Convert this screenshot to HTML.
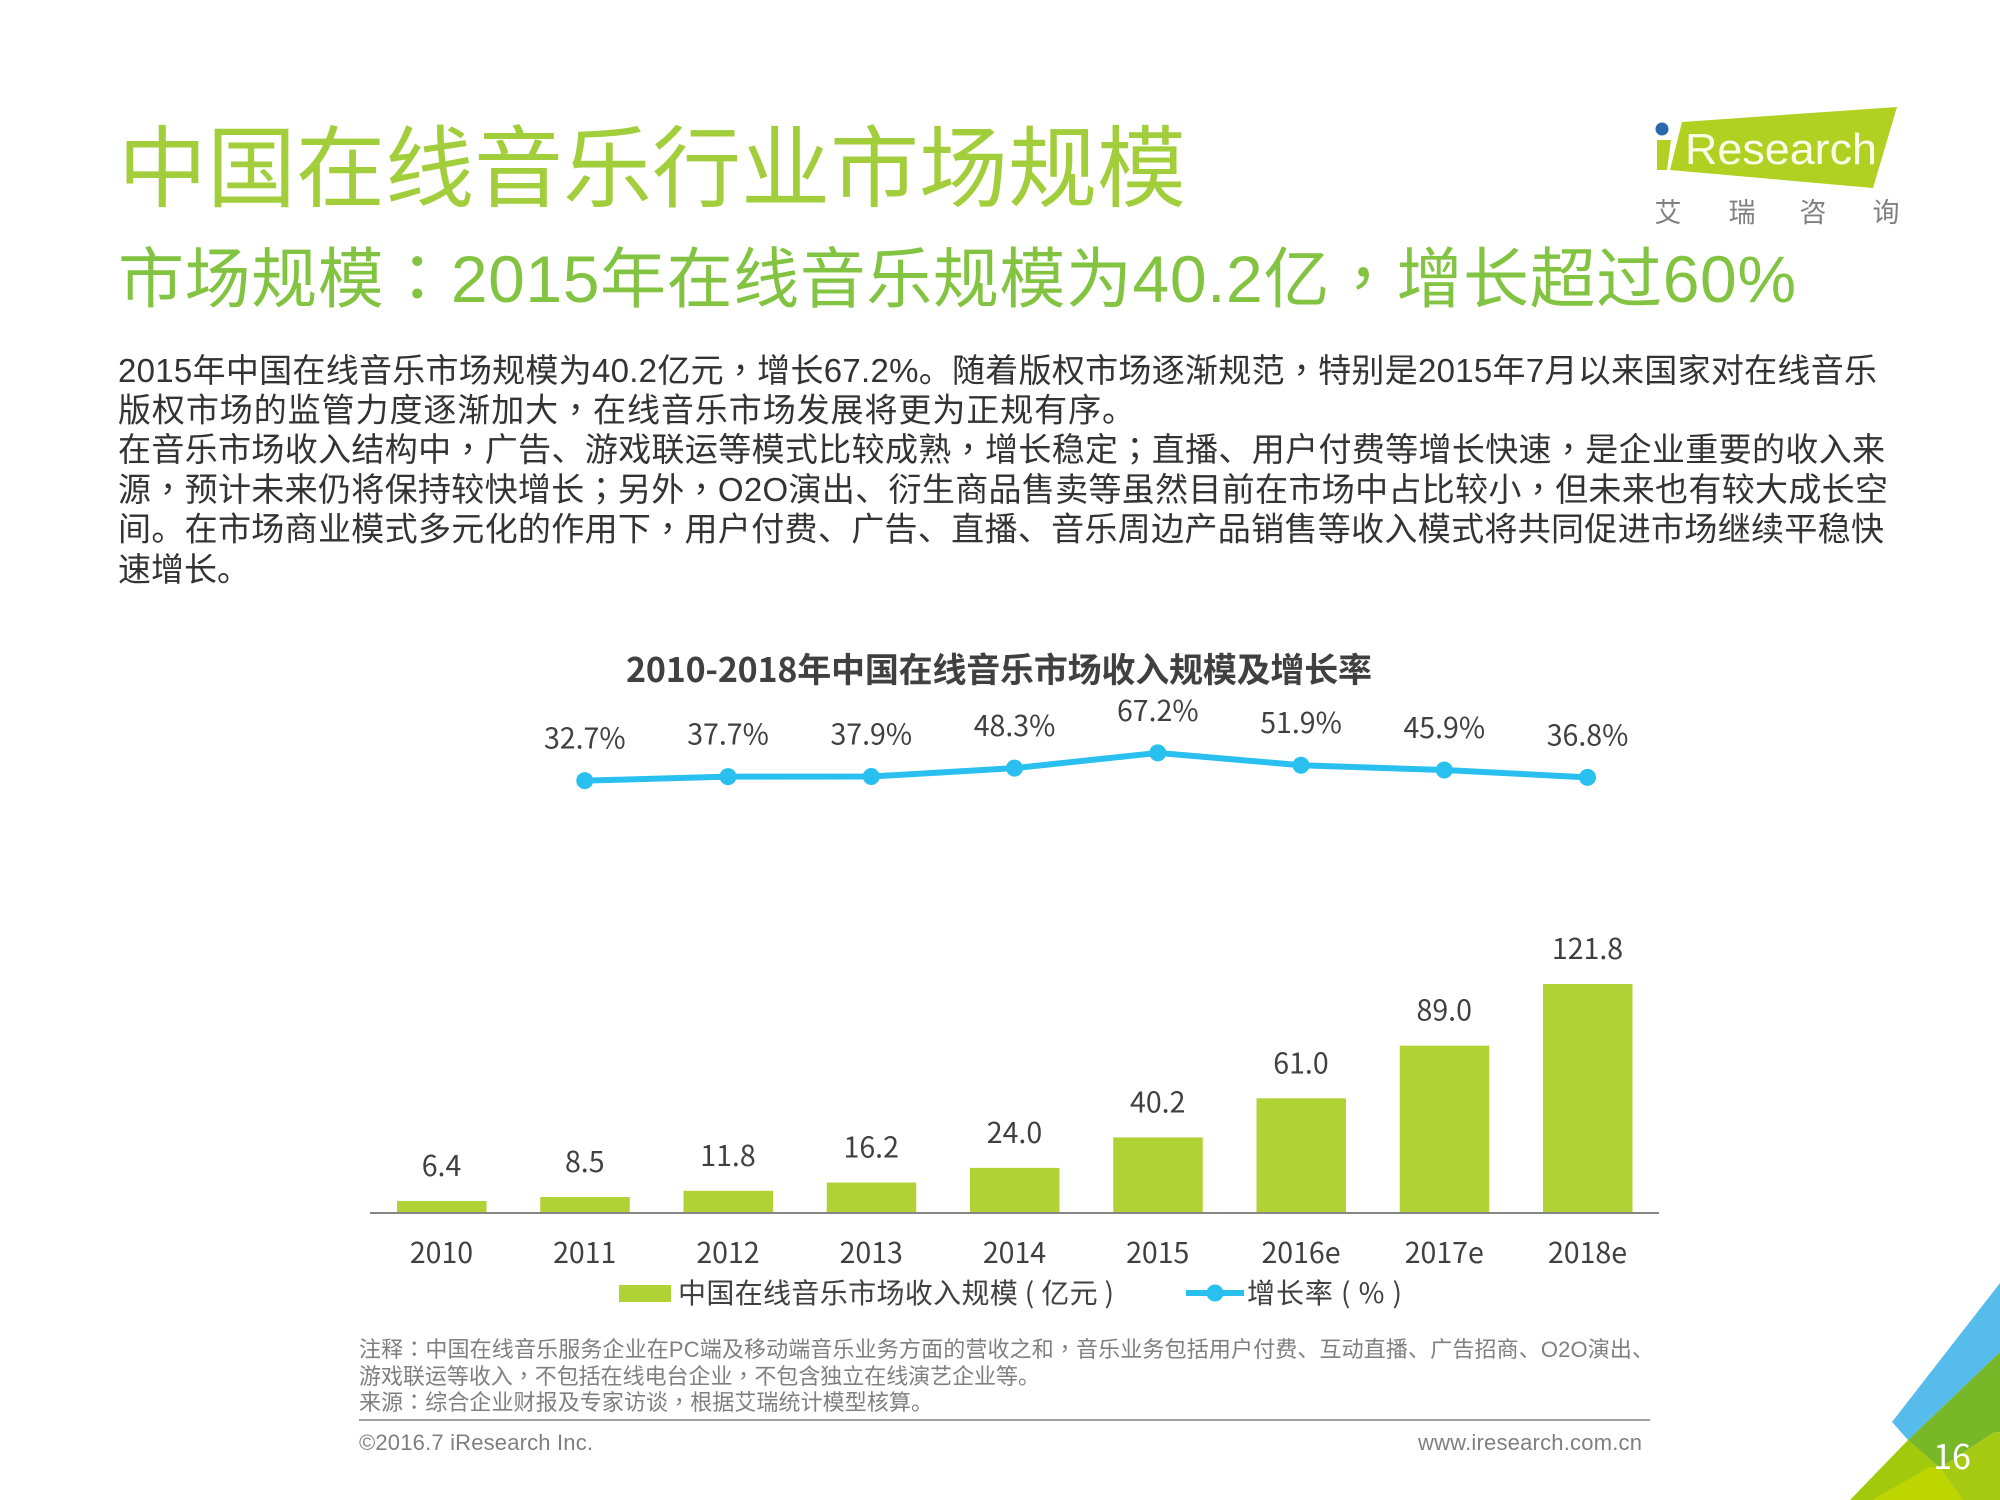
<!DOCTYPE html>
<html lang="zh-CN">
<head>
<meta charset="utf-8">
<title>中国在线音乐行业市场规模</title>
<style>
html,body{margin:0;padding:0;background:#fff;width:2000px;height:1500px;overflow:hidden}
svg{display:block}
text{font-family:"Liberation Sans","Noto Sans CJK SC",sans-serif}
.chart{font-family:"Noto Sans CJK SC","Liberation Sans",sans-serif;fill:#404040}
.body{font-size:33px;fill:#333}
.note{font-size:22px;fill:#7f7f7f}
.p{font-family:"Noto Sans CJK TC",sans-serif}
</style>
</head>
<body>
<svg id="page" xmlns="http://www.w3.org/2000/svg" width="2000" height="1500" viewBox="0 0 2000 1500">
  <rect width="2000" height="1500" fill="#fff"/>

  <text x="118" y="200" font-size="89" fill="#a2ce3c" textLength="1068" lengthAdjust="spacing">中国在线音乐行业市场规模</text>
  <text x="118" y="302" font-size="66" fill="#82c341" textLength="1678" lengthAdjust="spacing">市场规模<tspan class="p" lang="zh-TW">：</tspan>2015年在线音乐规模为40.2亿<tspan class="p" lang="zh-TW">，</tspan>增长超过60%</text>

  <g>
    <polygon points="1682,122 1897,107 1873,188 1670,170" fill="#b0d022"/>
    <polygon points="1657,140 1671,140 1667,170 1657,170" fill="#b0d022"/>
    <circle cx="1662" cy="129" r="6.5" fill="#2b67ac"/>
    <text x="1685" y="164" font-size="44" fill="#fbfde8" textLength="192" lengthAdjust="spacingAndGlyphs">Research</text>
    <text x="1668" y="222" font-size="27" fill="#808080" text-anchor="middle">艾</text>
    <text x="1742" y="222" font-size="27" fill="#808080" text-anchor="middle">瑞</text>
    <text x="1813" y="222" font-size="27" fill="#808080" text-anchor="middle">咨</text>
    <text x="1886" y="222" font-size="27" fill="#808080" text-anchor="middle">询</text>
  </g>

  <g>
    <text class="body" x="118" y="382" textLength="1759" lengthAdjust="spacing">2015年中国在线音乐市场规模为40.2亿元<tspan class="p" lang="zh-TW">，</tspan>增长67.2%。随着版权市场逐渐规范<tspan class="p" lang="zh-TW">，</tspan>特别是2015年7月以来国家对在线音乐</text>
    <text class="body" x="118" y="421.5" textLength="1017" lengthAdjust="spacing">版权市场的监管力度逐渐加大<tspan class="p" lang="zh-TW">，</tspan>在线音乐市场发展将更为正规有序。</text>
    <text class="body" x="118" y="461" textLength="1767" lengthAdjust="spacing">在音乐市场收入结构中<tspan class="p" lang="zh-TW">，</tspan>广告、游戏联运等模式比较成熟<tspan class="p" lang="zh-TW">，</tspan>增长稳定<tspan class="p" lang="zh-TW">；</tspan>直播、用户付费等增长快速<tspan class="p" lang="zh-TW">，</tspan>是企业重要的收入来</text>
    <text class="body" x="118" y="501" textLength="1770" lengthAdjust="spacing">源<tspan class="p" lang="zh-TW">，</tspan>预计未来仍将保持较快增长<tspan class="p" lang="zh-TW">；</tspan>另外<tspan class="p" lang="zh-TW">，</tspan>O2O演出、衍生商品售卖等虽然目前在市场中占比较小<tspan class="p" lang="zh-TW">，</tspan>但未来也有较大成长空</text>
    <text class="body" x="118" y="540.5" textLength="1766" lengthAdjust="spacing">间。在市场商业模式多元化的作用下<tspan class="p" lang="zh-TW">，</tspan>用户付费、广告、直播、音乐周边产品销售等收入模式将共同促进市场继续平稳快</text>
    <text class="body" x="118" y="581" textLength="132" lengthAdjust="spacing">速增长。</text>
  </g>

  <text class="chart" x="999" y="682" font-size="34" font-weight="700" text-anchor="middle" textLength="746" lengthAdjust="spacing">2010-2018年中国在线音乐市场收入规模及增长率</text>

  <g id="plot"></g>

  <g>
    <g>
      <rect x="619" y="1285" width="52" height="17" fill="#b0d235"/>
      <text class="chart" x="678" y="1303" font-size="28" textLength="436" lengthAdjust="spacing" xml:space="preserve">中国在线音乐市场收入规模 ( 亿元 )</text>
    </g>
    <g>
      <line x1="1186" y1="1293" x2="1244" y2="1293" stroke="#29c0ef" stroke-width="6"/>
      <circle cx="1215" cy="1293" r="8.5" fill="#29c0ef"/>
      <text class="chart" x="1247" y="1303" font-size="28" textLength="155" lengthAdjust="spacing" xml:space="preserve">增长率 ( % )</text>
    </g>
  </g>

  <g>
    <text class="note" x="359" y="1357" textLength="1295" lengthAdjust="spacing">注释<tspan class="p" lang="zh-TW">：</tspan>中国在线音乐服务企业在PC端及移动端音乐业务方面的营收之和<tspan class="p" lang="zh-TW">，</tspan>音乐业务包括用户付费、互动直播、广告招商、O2O演出、</text>
    <text class="note" x="359" y="1384" textLength="681" lengthAdjust="spacing">游戏联运等收入<tspan class="p" lang="zh-TW">，</tspan>不包括在线电台企业<tspan class="p" lang="zh-TW">，</tspan>不包含独立在线演艺企业等。</text>
    <text class="note" x="359" y="1410" textLength="574" lengthAdjust="spacing">来源<tspan class="p" lang="zh-TW">：</tspan>综合企业财报及专家访谈<tspan class="p" lang="zh-TW">，</tspan>根据艾瑞统计模型核算。</text>
  </g>
  <line x1="359" y1="1420" x2="1650" y2="1420" stroke="#808080" stroke-width="1.5"/>
  <text class="note" x="359" y="1450" textLength="234" lengthAdjust="spacing">©2016.7 iResearch Inc.</text>
  <text class="note" x="1418" y="1450" textLength="224" lengthAdjust="spacing">www.iresearch.com.cn</text>

  <g>
    <polygon points="2000,1283 1892,1422 1908,1440 2000,1352" fill="#56bcec"/>
    <polygon points="1908,1440 2000,1352 2000,1432 1993,1433 1940,1468" fill="#78b828"/>
    <polygon points="1908,1440 1850,1500 1963,1500 1940,1468" fill="#a3c90d"/>
    <polygon points="1940,1468 1993,1433 2000,1432 2000,1500 1963,1500" fill="#a6ca12"/>
    <polygon points="1872,1500 1930,1467 1940,1468 1963,1500" fill="#bdd600"/>
    <text x="1952" y="1469" font-size="34" fill="#fff" text-anchor="middle" style="font-family:'Noto Sans CJK SC','Liberation Sans',sans-serif">16</text>
  </g>
</svg>

<script>
const categories = ['2010','2011','2012','2013','2014','2015','2016e','2017e','2018e'];
const revenueValues = [6.4,8.5,11.8,16.2,24.0,40.2,61.0,89.0,121.8];
const growthCategories = ['2011','2012','2013','2014','2015','2016e','2017e','2018e'];
const growthValues = [32.7,37.7,37.9,48.3,67.2,51.9,45.9,36.8];

const SVGNS = 'http://www.w3.org/2000/svg';
const plot = document.getElementById('plot');
function xScale(cat){ return 441.5 + categories.indexOf(cat) * 143.25; }
function yBar(v){ return 1213 - v * 1.88; }
function yLine(v){ return 807 - v * 0.805; }
function make(tag, attrs, txt){
  const el = document.createElementNS(SVGNS, tag);
  for (const k in attrs) el.setAttribute(k, attrs[k]);
  if (txt !== undefined) el.textContent = txt;
  plot.appendChild(el);
  return el;
}

categories.forEach(function(cat, i){
  const v = revenueValues[i];
  const bar = make('rect', {x: xScale(cat) - 44.5, y: yBar(v), width: 89.5, height: 1213 - yBar(v), fill: '#b0d235'});
  
  
  const lab = make('text', {x: xScale(cat), y: yBar(v) - 25, 'font-size': 28.5, 'text-anchor': 'middle', class: 'chart'}, v.toFixed(1));
  
  
  const tick = make('text', {x: xScale(cat), y: 1263, 'font-size': 28.5, 'text-anchor': 'middle', class: 'chart'}, cat);
  
  
});

const axis = make('line', {x1: 370, y1: 1213, x2: 1659, y2: 1213, stroke: '#868686', 'stroke-width': 2});



const linePoints = growthCategories.map(function(cat, i){ return xScale(cat) + ',' + yLine(growthValues[i]); }).join(' ');
const growthLine = make('polyline', {points: linePoints, fill: 'none', stroke: '#29c0ef', 'stroke-width': 6});



growthCategories.forEach(function(cat, i){
  const v = growthValues[i];
  const pt = make('circle', {cx: xScale(cat), cy: yLine(v), r: 8.5, fill: '#29c0ef'});
  
  
  const lab = make('text', {x: xScale(cat), y: yLine(v) - 32, 'font-size': 28.5, 'text-anchor': 'middle', class: 'chart'}, v.toFixed(1) + '%');
  
  
});
</script>
</body>
</html>
